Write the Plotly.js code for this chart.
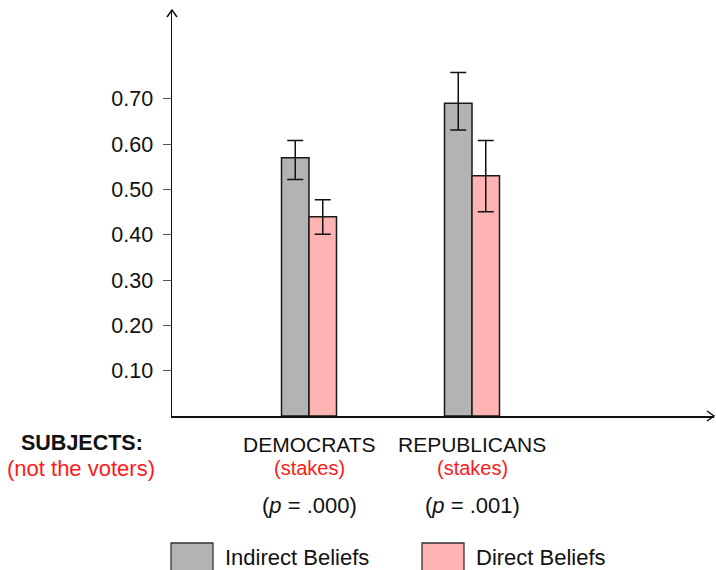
<!DOCTYPE html>
<html>
<head>
<meta charset="utf-8">
<script src="https://cdn.plot.ly/plotly-3.0.1.min.js"></script>
<style>html,body{margin:0;padding:0;background:#fff;}#chart{width:716px;height:570px;}</style>
</head>
<body>
<div id="chart"></div>
<script>
// ---- data ----
const categories = ["DEMOCRATS", "REPUBLICANS"];
const stakesLabels = ["(stakes)", "(stakes)"];
const pLabels = ["(<i>p</i> = .000)", "(<i>p</i> = .001)"];
const indirectValues = [0.57, 0.69];
const indirectErrPlus = [0.038, 0.068];
const indirectErrMinus = [0.048, 0.059];
const directValues = [0.44, 0.53];
const directErrPlus = [0.037, 0.078];
const directErrMinus = [0.039, 0.079];
const seriesNames = ["Indirect Beliefs", "Direct Beliefs"];
const yTickVals = [0.1, 0.2, 0.3, 0.4, 0.5, 0.6, 0.7];
const yTickText = ["0.10", "0.20", "0.30", "0.40", "0.50", "0.60", "0.70"];
const subjectsLabel = "<b>SUBJECTS:</b>";
const subjectsNote = "(not the voters)";

// ---- layout helpers ----
const W = 716, H = 570;
const mL = 172, mR = 2, mT = 10, mB = 154;
const pw = W - mL - mR, ph = H - mT - mB;
const px = x => (x - mL) / pw;          // pixel x -> paper
const py = y => (H - mB - y) / ph;      // pixel y -> paper
const FONT = "Liberation Sans, Arial, sans-serif";
const RED = "#ff1a1a";
const xPos = categories.map((c, i) => i + 1);
const bw = 0.1687;

const errStyle = {color: "#111", thickness: 1.5, width: 8};
const traces = [
  {type: "bar", name: seriesNames[0], x: xPos, y: indirectValues, width: bw, offset: -bw,
   marker: {color: "#b3b3b3", line: {color: "#1a1a1a", width: 1.5}},
   error_y: Object.assign({type: "data", symmetric: false, array: indirectErrPlus, arrayminus: indirectErrMinus}, errStyle),
   hoverinfo: "y"},
  {type: "bar", name: seriesNames[1], x: xPos, y: directValues, width: bw, offset: 0,
   marker: {color: "#ffb3b3", line: {color: "#1a1a1a", width: 1.5}},
   error_y: Object.assign({type: "data", symmetric: false, array: directErrPlus, arrayminus: directErrMinus}, errStyle),
   hoverinfo: "y"}
];

const annotations = [];
categories.forEach((c, i) => {
  annotations.push({text: c, x: xPos[i], xref: "x", y: 0, yref: "paper", yanchor: "middle", yshift: -28, showarrow: false, font: {size: 21, color: "#111", family: FONT}});
  annotations.push({text: stakesLabels[i], x: xPos[i], xref: "x", y: 0, yref: "paper", yanchor: "middle", yshift: -52, showarrow: false, font: {size: 20, color: RED, family: FONT}});
  annotations.push({text: pLabels[i], x: xPos[i], xref: "x", y: 0, yref: "paper", yanchor: "middle", yshift: -89, showarrow: false, font: {size: 22, color: "#111", family: FONT}});
});
annotations.push({text: subjectsLabel, x: px(82), xref: "paper", xanchor: "center", y: 0, yref: "paper", yanchor: "middle", yshift: -27, showarrow: false, font: {size: 21.5, color: "#111", family: FONT}});
annotations.push({text: subjectsNote, x: px(81), xref: "paper", xanchor: "center", y: 0, yref: "paper", yanchor: "middle", yshift: -52, showarrow: false, font: {size: 22, color: RED, family: FONT}});

// custom legend
const legendItems = [
  {name: seriesNames[0], color: "#b3b3b3", bx0: 171, bx1: 213, tx: 223},
  {name: seriesNames[1], color: "#ffb3b3", bx0: 422, bx1: 464, tx: 474}
];
const shapes = [];
legendItems.forEach(it => {
  shapes.push({type: "rect", xref: "paper", yref: "paper", x0: px(it.bx0), x1: px(it.bx1), y0: py(543), y1: py(585),
               fillcolor: it.color, line: {color: "#333", width: 1.3}});
  annotations.push({text: it.name, x: px(it.tx), xref: "paper", xanchor: "left", y: py(557), yref: "paper", yanchor: "middle", showarrow: false, font: {size: 22, color: "#111", family: FONT}});
});

// axis arrowheads
const axisColor = "#111";
shapes.push({type: "path", xref: "paper", yref: "paper", layer: "above",
  path: `M${px(167)},${py(17)} L${px(172)},${py(10)} L${px(177)},${py(17)}`, line: {color: axisColor, width: 1.5}});
shapes.push({type: "path", xref: "paper", yref: "paper", layer: "above",
  path: `M${px(707)},${py(411)} L${px(714)},${py(416)} L${px(707)},${py(421)}`, line: {color: axisColor, width: 1.5}});

const layout = {
  width: W, height: H,
  margin: {l: mL, r: mR, t: mT, b: mB, pad: 0},
  paper_bgcolor: "#fff", plot_bgcolor: "#fff",
  showlegend: false,
  font: {family: FONT, color: "#111"},
  xaxis: {range: [0.1595, 3.4847], showgrid: false, zeroline: false, showline: true, linecolor: axisColor, linewidth: 1.5,
          showticklabels: false, ticks: "", fixedrange: true},
  yaxis: {range: [0, 0.896], showgrid: false, zeroline: false, showline: true, linecolor: axisColor, linewidth: 1.5,
          tickvals: yTickVals, ticktext: yTickText, ticks: "outside", ticklen: 8, tickwidth: 1, tickcolor: "#555",
          ticklabelstandoff: 5, tickfont: {size: 21.5, color: "#111", family: FONT}, fixedrange: true},
  annotations: annotations,
  shapes: shapes
};

Plotly.newPlot("chart", traces, layout, {displayModeBar: false, staticPlot: true});
</script>
</body>
</html>
